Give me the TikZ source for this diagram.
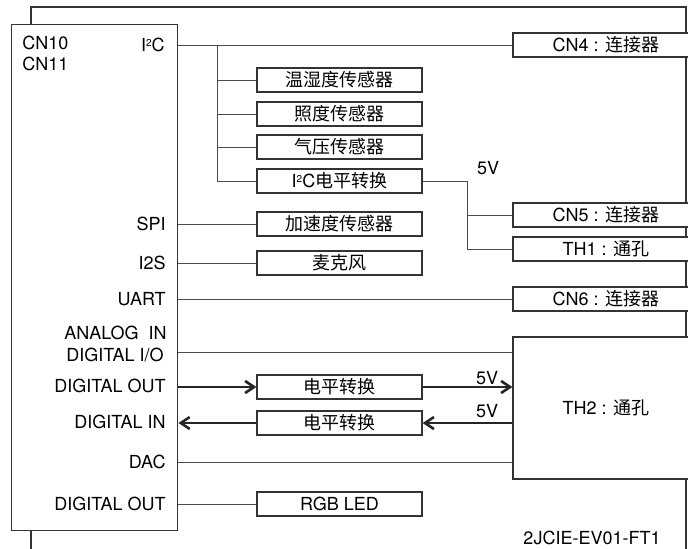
\documentclass[tikz,border=0pt]{standalone}
\usepackage{fontspec}
\setmainfont{TeX Gyre Heros}
\newfontfamily\cjk{Noto Sans CJK SC}
\usetikzlibrary{arrows.meta, positioning}
\newcommand{\iic}{I\raisebox{2.6pt}{\fontsize{5}{5}\selectfont 2}C}

\begin{document}
\begin{tikzpicture}[x=0.5pt, y=-0.5pt, font=\fontsize{9}{10.5}\selectfont,
		lbl/.style={inner sep=0pt, text height=6.6pt, text depth=0pt},
		box/.style={draw=black!80, line width=0.6pt, fill=white, inner sep=0pt,
			minimum width=82.5pt, minimum height=12pt, text height=6.8pt, text depth=0pt},
		conbox/.style={box, minimum width=93pt},
		wire/.style={draw=black!70, line width=0.5pt},
		bus/.style={draw=black!85, line width=1.3pt},
		tip/.style={-{Straight Barb[length=4.5pt, width=6pt]}}]
		\useasboundingbox (0,0) rectangle (688,548);
		\clip (0,0) rectangle (688,548);
		
		% Board outline
		\draw[black!80, line width=0.7pt] (31,7) rectangle (686,600);
		
		% Connector block (left)
		\node[draw=black!80, line width=0.7pt, fill=white, anchor=north west,
			minimum width=83pt, minimum height=253pt] (mcu) at (11,24) {};
		\node[lbl, anchor=west] (cn10) at (22,43) {CN10};
		\node[lbl, anchor=west] (cn11) at (22,64) {CN11};
		\node[lbl, anchor=east] (i2c) at (165,45) {\iic};
		\node[lbl, anchor=east] (spi) at (166,224) {SPI};
		\node[lbl, anchor=east] (i2s) at (166,263) {I2S};
		\node[lbl, anchor=east] (uart) at (166,299) {UART};
		\node[lbl, anchor=east] (ain) at (167,333) {ANALOG\ \ IN};
		\node[lbl, anchor=east] (dio) at (164,355) {DIGITAL I/O};
		\node[lbl, anchor=east] (dout) at (166,386) {DIGITAL OUT};
		\node[lbl, anchor=east] (din) at (166,422) {DIGITAL IN};
		\node[lbl, anchor=east] (dac) at (166,462) {DAC};
		\node[lbl, anchor=east] (dout2) at (166,504) {DIGITAL OUT};
		
		% Devices (middle)
		\node[box] (temp) at (339.5,80) {\cjk 温湿度传感器};
		\node[box] (lux) at (339.5,114) {\cjk 照度传感器};
		\node[box] (baro) at (339.5,147) {\cjk 气压传感器};
		\node[box] (lvl) at (339.5,181) {\iic{\cjk 电平转换}};
		\node[box] (acc) at (339.5,224) {\cjk 加速度传感器};
		\node[box] (mic) at (339.5,263) {\cjk 麦克风};
		\node[box] (lvlo) at (339.5,387) {\cjk 电平转换};
		\node[box] (lvli) at (339.5,423) {\cjk 电平转换};
		\node[box] (rgb) at (339.5,504) {RGB LED};
		
		% Board connectors (right)
		\node[conbox] (cn4) at (606,45) {CN4 : {\cjk 连接器}};
		\node[conbox] (cn5) at (606,215) {CN5 : {\cjk 连接器}};
		\node[conbox] (th1) at (606,249) {TH1 : {\cjk 通孔}};
		\node[conbox] (cn6) at (606,299) {CN6 : {\cjk 连接器}};
		\node[conbox, minimum height=71pt] (th2) at (606,408) {TH2 : {\cjk 通孔}};
		
		% I2C bus
		\coordinate (br) at (217,45);
		\draw[wire] (mcu.east |- cn4) -- (cn4);
		\draw[wire] (br) |- (temp.west);
		\draw[wire] (br) |- (lux.west);
		\draw[wire] (br) |- (baro.west);
		\draw[wire] (br) |- (lvl.west);
		\coordinate (v5) at (467,181);
		\draw[wire] (lvl.east) -- (v5) |- (th1.west);
		\draw[wire] (v5 |- cn5) -- (cn5.west);
		\node[lbl] (v5a) at (488,168) {5V};
		
		% Other signals
		\draw[wire] (mcu.east |- acc) -- (acc);
		\draw[wire] (mcu.east |- mic) -- (mic);
		\draw[wire] (mcu.east |- cn6) -- (cn6);
		\coordinate (aio) at (th2.west |- 0,352);
		\draw[wire] (mcu.east |- aio) -- (aio);
		\draw[bus, tip] (mcu.east |- lvlo) -- (lvlo.west);
		\draw[bus, tip] (lvlo.east) -- (th2.west |- lvlo);
		\node[lbl] (v5b) at (487,378) {5V};
		\draw[bus, tip] (lvli.west) -- (mcu.east |- lvli);
		\draw[bus, tip] (th2.west |- lvli) -- (lvli.east);
		\node[lbl] (v5c) at (487,411) {5V};
		\draw[wire] (mcu.east |- 0,462) -- (th2.west |- 0,462);
		\draw[wire] (mcu.east |- rgb) -- (rgb);
		
		% Board name
		\node[lbl] (name) at (592,538) {2JCIE-EV01-FT1};
	\end{tikzpicture}
\end{document}
